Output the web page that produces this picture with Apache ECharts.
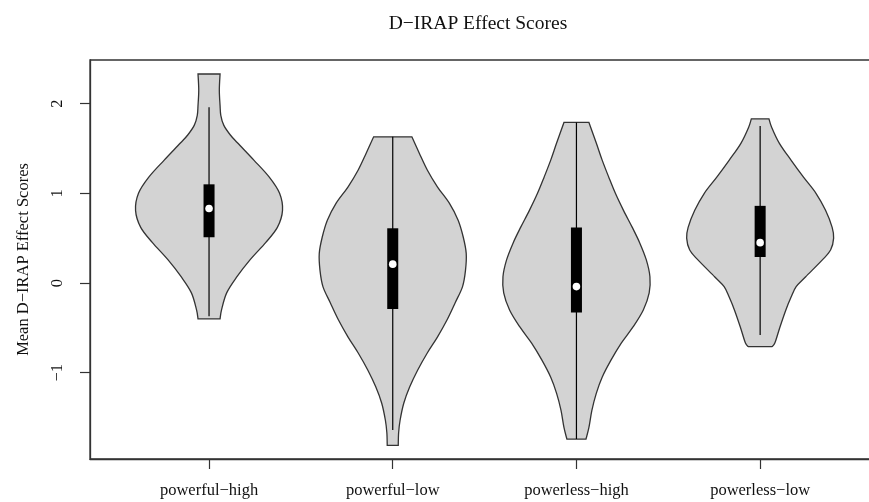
<!DOCTYPE html>
<html>
<head>
<meta charset="utf-8">
<title>D-IRAP Effect Scores</title>
<script src="https://cdn.jsdelivr.net/npm/echarts@6/dist/echarts.min.js"></script>
<style>
  html, body { margin: 0; padding: 0; background: #fff; }
  #chart { width: 869px; height: 502px; }
</style>
</head>
<body>
<div id="chart"></div>
<script>
const categories = ['powerful\u2212high', 'powerful\u2212low', 'powerless\u2212high', 'powerless\u2212low'];
const yTicks = [-1, 0, 1, 2];

// violin outlines, top to bottom: [score, relative density]
const densityPowerfulHigh = [
  [2.33, 0.15], [2.15, 0.14], [1.98, 0.15], [1.87, 0.16], [1.76, 0.2],
  [1.65, 0.29], [1.56, 0.39], [1.37, 0.61], [1.18, 0.82], [1.0, 0.96],
  [0.81, 1.0], [0.62, 0.93], [0.45, 0.77], [0.26, 0.56], [0.07, 0.38],
  [-0.11, 0.24], [-0.3, 0.17], [-0.4, 0.15]
];
const densityPowerfulLow = [
  [1.63, 0.26], [1.45, 0.36], [1.26, 0.47], [1.07, 0.61], [0.89, 0.77],
  [0.7, 0.89], [0.51, 0.96], [0.33, 1.0], [0.14, 0.99], [-0.04, 0.95],
  [-0.22, 0.85], [-0.41, 0.74], [-0.6, 0.61], [-0.78, 0.47], [-0.97, 0.34],
  [-1.16, 0.23], [-1.34, 0.15], [-1.53, 0.1], [-1.67, 0.08], [-1.81, 0.075]
];
const densityPowerlessHigh = [
  [1.79, 0.17], [1.56, 0.27], [1.37, 0.35], [1.18, 0.44], [1.0, 0.53],
  [0.81, 0.64], [0.62, 0.76], [0.45, 0.86], [0.26, 0.95], [0.07, 1.0],
  [-0.11, 0.99], [-0.3, 0.91], [-0.49, 0.77], [-0.67, 0.61], [-0.86, 0.47],
  [-1.05, 0.35], [-1.23, 0.27], [-1.42, 0.21], [-1.61, 0.17], [-1.74, 0.13]
];
const densityPowerlessLow = [
  [1.83, 0.12], [1.74, 0.155], [1.56, 0.26], [1.37, 0.42], [1.18, 0.59],
  [1.0, 0.76], [0.81, 0.89], [0.62, 0.98], [0.5, 1.0], [0.37, 0.96],
  [0.26, 0.85], [0.07, 0.62], [-0.04, 0.49], [-0.16, 0.42], [-0.3, 0.35],
  [-0.49, 0.27], [-0.67, 0.2], [-0.71, 0.16]
];

// [lower whisker, q1, median, q3, upper whisker]
const boxPowerfulHigh = [-0.37, 0.51, 0.83, 1.1, 1.96];
const boxPowerfulLow = [-1.64, -0.29, 0.21, 0.61, 1.63];
const boxPowerlessHigh = [-1.74, -0.33, -0.04, 0.62, 1.79];
const boxPowerlessLow = [-0.58, 0.29, 0.45, 0.86, 1.75];

const densities = [densityPowerfulHigh, densityPowerfulLow, densityPowerlessHigh, densityPowerlessLow];
const boxes = [boxPowerfulHigh, boxPowerfulLow, boxPowerlessHigh, boxPowerlessLow];

const violinWidth = 0.4;
const boxWidth = 0.03;
const serif = 'Liberation Serif';

// smooth open curve through pixel points (catmull-rom as cubic beziers)
function curveTo(pts) {
  let d = '';
  for (let k = 0; k < pts.length - 1; k++) {
    const p0 = pts[Math.max(k - 1, 0)];
    const p1 = pts[k];
    const p2 = pts[k + 1];
    const p3 = pts[Math.min(k + 2, pts.length - 1)];
    const c1 = [p1[0] + (p2[0] - p0[0]) / 6, p1[1] + (p2[1] - p0[1]) / 6];
    const c2 = [p2[0] - (p3[0] - p1[0]) / 6, p2[1] - (p3[1] - p1[1]) / 6];
    d += ' C' + c1.join(' ') + ' ' + c2.join(' ') + ' ' + p2.join(' ');
  }
  return d;
}

function renderViolin(params, api) {
  const i = api.value(0);
  const cx = i + 1;
  const dens = densities[i];
  const box = boxes[i];
  const right = dens.map(d => api.coord([cx + d[1] * violinWidth, d[0]]));
  const left = dens.slice().reverse().map(d => api.coord([cx - d[1] * violinWidth, d[0]]));
  const pathData = 'M' + right[0].join(' ') + curveTo(right) +
    ' L' + left[0].join(' ') + curveTo(left) + ' Z';
  const top = api.coord([cx, box[4]]);
  const bottom = api.coord([cx, box[0]]);
  const q3 = api.coord([cx - boxWidth, box[3]]);
  const q1 = api.coord([cx + boxWidth, box[1]]);
  const med = api.coord([cx, box[2]]);
  return {
    type: 'group',
    children: [
      {
        type: 'path',
        shape: { pathData: pathData },
        style: { fill: '#d3d3d3', stroke: '#333', lineWidth: 1.3 }
      },
      {
        type: 'line',
        shape: { x1: top[0], y1: top[1], x2: bottom[0], y2: bottom[1] },
        style: { stroke: '#000', lineWidth: 1.2 }
      },
      {
        type: 'rect',
        shape: { x: q3[0], y: q3[1], width: q1[0] - q3[0], height: q1[1] - q3[1] },
        style: { fill: '#000' }
      },
      {
        type: 'circle',
        shape: { cx: med[0], cy: med[1], r: 3.8 },
        style: { fill: '#fff' }
      }
    ]
  };
}

const chart = echarts.init(document.getElementById('chart'), null, { renderer: 'canvas' });

chart.setOption({
  animation: false,
  backgroundColor: '#fff',
  title: {
    text: 'D\u2212IRAP Effect Scores',
    left: 473,
    top: 9,
    textAlign: 'center',
    textStyle: { fontFamily: serif, fontSize: 19.5, fontWeight: 'normal', color: '#111' }
  },
  grid: {
    left: 90,
    top: 60,
    width: 789,
    height: 399,
    outerBoundsMode: 'none',
    containLabel: false,
    show: true,
    borderColor: '#333',
    borderWidth: 1.3,
    backgroundColor: 'transparent'
  },
  xAxis: {
    type: 'value',
    min: 0.352,
    max: 4.647,
    axisLine: { show: true, onZero: false, lineStyle: { color: '#333', width: 1.3 } },
    axisTick: { show: true, length: 10, customValues: [1, 2, 3, 4], lineStyle: { color: '#333', width: 1.2 } },
    axisLabel: {
      customValues: [1, 2, 3, 4],
      formatter: v => categories[Math.round(v) - 1],
      margin: 23,
      fontFamily: serif,
      fontSize: 16.5,
      color: '#111'
    },
    splitLine: { show: false }
  },
  yAxis: {
    type: 'value',
    min: -1.962,
    max: 2.486,
    name: 'Mean D\u2212IRAP Effect Scores',
    nameLocation: 'middle',
    nameGap: 58,
    nameTextStyle: { fontFamily: serif, fontSize: 16.5, color: '#111' },
    axisLine: { show: true, onZero: false, lineStyle: { color: '#333', width: 1.3 } },
    axisTick: { show: true, length: 10, customValues: yTicks, lineStyle: { color: '#333', width: 1.2 } },
    axisLabel: {
      customValues: yTicks,
      rotate: 90,
      margin: 24,
      formatter: v => String(v).replace('-', '\u2212'),
      fontFamily: serif,
      fontSize: 16.5,
      color: '#111'
    },
    splitLine: { show: false }
  },
  series: [
    {
      type: 'custom',
      name: 'violins',
      renderItem: renderViolin,
      data: categories.map((c, i) => [i]),
      encode: { x: 0 },
      silent: true
    }
  ]
});
</script>
</body>
</html>
